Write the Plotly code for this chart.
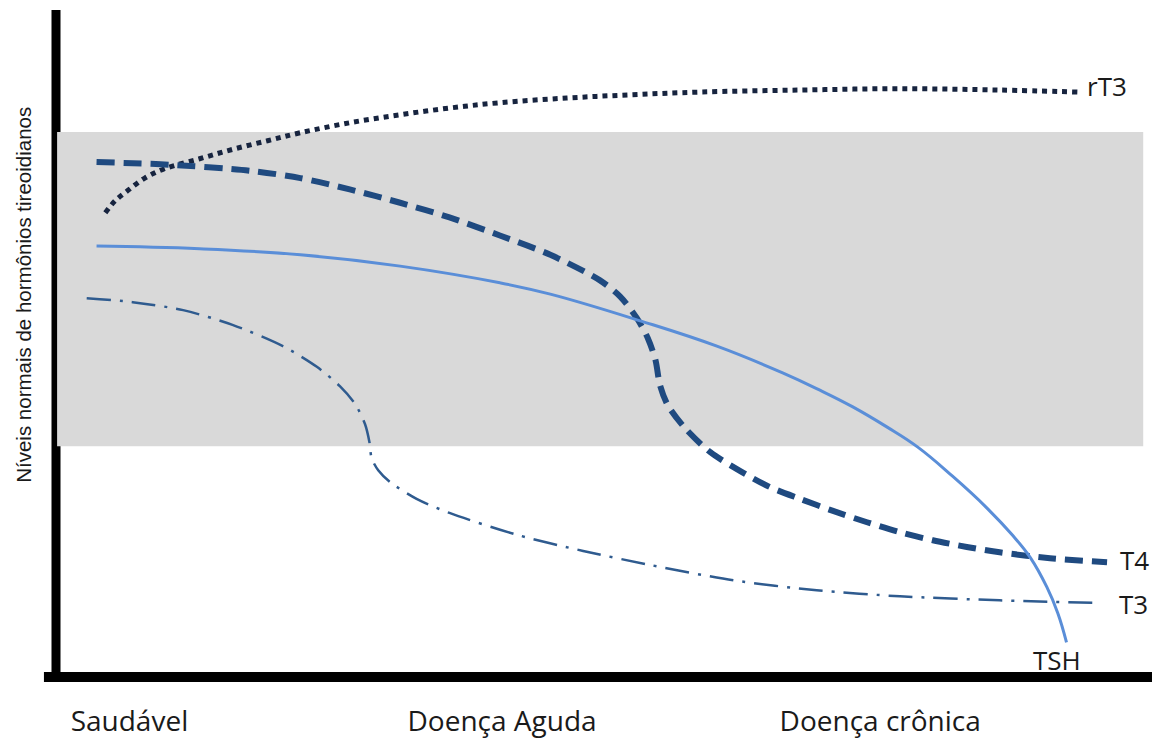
import plotly.graph_objects as go

# Disease progression (0-100, arbitrary units) vs. hormone level (0-100, arbitrary units)
rt3_x = [4.5, 5.4, 6.6, 8.1, 9.9, 13.1, 16.1, 19.3, 22.3, 26.8, 31.4, 35.9, 40.5, 46.6,
         52.6, 58.8, 67.9, 77.0, 86.1, 93.2]
rt3_y = [69.6, 71.4, 73.0, 74.8, 76.2, 77.7, 79.1, 80.4, 81.6, 83.1, 84.3, 85.3, 86.1, 86.8,
         87.3, 87.7, 88.0, 88.2, 88.0, 87.7]

t4_x = [3.7, 10.4, 17.7, 22.3, 26.8, 31.4, 35.9, 40.5, 45.1, 49.6, 51.5, 53.0, 54.0, 54.7,
        55.1, 55.8, 57.4, 59.7, 62.4, 65.1, 67.9, 70.9, 74.0, 77.0, 80.0, 83.1, 86.1, 90.7, 95.9]
t4_y = [77.2, 76.8, 75.9, 74.8, 73.1, 71.1, 68.9, 66.2, 63.3, 59.5, 57.0, 53.8, 50.8, 47.5,
        43.8, 40.8, 37.3, 33.7, 30.9, 28.5, 26.7, 24.9, 23.2, 21.7, 20.5, 19.5, 18.7, 17.8, 17.2]

tsh_x = [3.7, 13.1, 22.3, 31.4, 40.5, 45.1, 53.3, 60.3, 66.3, 69.7, 72.7, 75.8, 78.6, 81.8,
         84.9, 87.3, 88.9, 90.4, 91.4, 92.2]
tsh_y = [64.6, 64.2, 63.3, 61.6, 59.1, 57.4, 53.4, 49.6, 45.6, 43.0, 40.5, 37.5, 34.5, 30.1,
         25.4, 21.2, 17.9, 13.5, 9.6, 5.2]

t3_x = [2.8, 7.0, 11.6, 16.1, 20.7, 23.8, 25.9, 27.3, 28.2, 28.6, 28.8, 29.4, 30.5, 32.9,
        35.9, 42.1, 48.1, 54.2, 61.8, 69.4, 77.0, 86.1, 95.0]
t3_y = [56.8, 56.2, 55.0, 52.8, 49.6, 46.5, 43.6, 40.9, 37.9, 35.2, 32.8, 31.0, 29.2, 26.7,
        24.6, 21.3, 18.9, 16.8, 14.5, 13.0, 12.1, 11.5, 11.1]

normal_low, normal_high = 34.6, 81.7
stage_x = [6.7, 40.7, 75.2]
stage_labels = ["Saudável", "Doença Aguda", "Doença crônica"]
y_title = "Níveis normais de hormônios tireoidianos"

fig = go.Figure()

fig.add_trace(go.Scatter(x=rt3_x, y=rt3_y, mode="lines", name="rT3",
                         line=dict(color="#17243f", width=5, dash="5px,5px", shape="spline", smoothing=1.0)))
fig.add_trace(go.Scatter(x=t4_x, y=t4_y, mode="lines", name="T4",
                         line=dict(color="#1f4a80", width=6, dash="18px,9px", shape="spline", smoothing=0.8)))
fig.add_trace(go.Scatter(x=tsh_x, y=tsh_y, mode="lines", name="TSH",
                         line=dict(color="#5a8ed8", width=3, shape="spline", smoothing=1.2)))
fig.add_trace(go.Scatter(x=t3_x, y=t3_y, mode="lines", name="T3",
                         line=dict(color="#2f5b8f", width=2.5, dash="24px,9px,3px,9px", shape="spline", smoothing=0.8)))

shapes = [
    # axes
    dict(type="line", xref="paper", yref="paper", x0=0, x1=0, y0=-0.0075, y1=1.0,
         line=dict(color="black", width=9), layer="below"),
    dict(type="line", xref="paper", yref="paper", x0=-0.011, x1=1.0, y0=0, y1=0,
         line=dict(color="black", width=10), layer="below"),
    # normal range band
    dict(type="rect", xref="x", yref="y", x0=0.1, x1=99.2, y0=normal_low, y1=normal_high,
         fillcolor="#d9d9d9", line=dict(width=0), layer="below"),
]

label_font = dict(family="Open Sans, Liberation Sans, sans-serif", size=26, color="#1a1a1a")
stage_font = dict(family="Open Sans, Liberation Sans, sans-serif", size=28, color="#1a1a1a")
annotations = [
    dict(x=93.9, y=88.6, xref="x", yref="y", text="rT3", showarrow=False, xanchor="left", yanchor="middle", font=label_font),
    dict(x=96.9, y=17.5, xref="x", yref="y", text="T4", showarrow=False, xanchor="left", yanchor="middle", font=label_font),
    dict(x=96.8, y=10.9, xref="x", yref="y", text="T3", showarrow=False, xanchor="left", yanchor="middle", font=label_font),
    dict(x=91.3, y=2.5, xref="x", yref="y", text="TSH", showarrow=False, xanchor="center", yanchor="middle", font=label_font),
    dict(x=-0.0292, y=0.573, xref="paper", yref="paper", text=y_title, showarrow=False, textangle=-90,
         xanchor="center", yanchor="middle",
         font=dict(family="Liberation Sans, Arial, sans-serif", size=20.5, color="#1a1a1a")),
]

fig.update_layout(
    width=1162, height=749,
    margin=dict(l=56, r=10, t=10, b=67.5),
    paper_bgcolor="white", plot_bgcolor="white",
    showlegend=False,
    shapes=shapes, annotations=annotations,
    xaxis=dict(range=[0, 100], showgrid=False, zeroline=False, showline=False,
               tickmode="array", tickvals=stage_x, ticktext=stage_labels,
               ticks="outside", ticklen=19, tickcolor="rgba(0,0,0,0)",
               tickfont=stage_font, fixedrange=True),
    yaxis=dict(range=[0, 100], showgrid=False, zeroline=False, showline=False,
               showticklabels=False, fixedrange=True),
)

page_fix = (
    "var s=document.documentElement.style;s.margin='0';s.padding='0';"
    "var b=document.body.style;b.margin='0';b.padding='0';"
)
fig.write_html("out.html", config={"displayModeBar": False}, post_script=page_fix)
